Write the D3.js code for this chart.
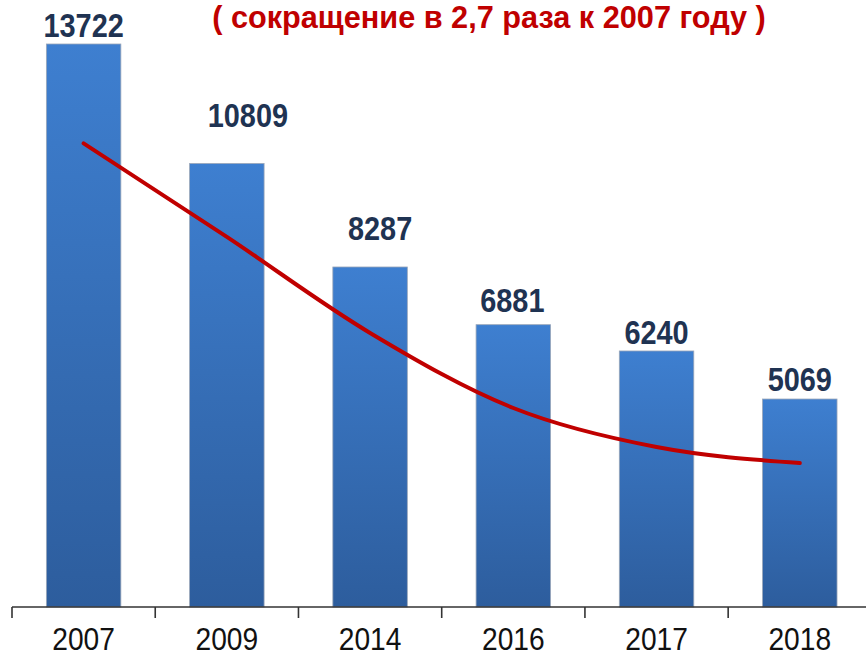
<!DOCTYPE html>
<html>
<head>
<meta charset="utf-8">
<script src="https://cdn.jsdelivr.net/npm/d3@7"></script>
<style>
  html, body { margin: 0; padding: 0; background: #fff; }
  svg { display: block; }
</style>
</head>
<body>
<svg id="chart" width="866" height="657"></svg>
<script>
const title = "( сокращение в 2,7 раза к 2007 году )";
const years = ["2007", "2009", "2014", "2016", "2017", "2018"];
const values = [13722, 10809, 8287, 6881, 6240, 5069];
const trendValues = [11300, 9020, 6680, 4850, 3900, 3510];
// label nudges (as in the original slide)
const labelGap = [7, 37, 27, 13, 7, 8];
const labelShift = [0, 21, 10, -1, 0, 0];

const W = 866, H = 657;
const baseY = 607;
const FONT = "'Liberation Sans', Arial, sans-serif";
const svg = d3.select("#chart");

const x = d3.scaleBand().domain(years).range([12, 871.4])
  .paddingInner(0.48).paddingOuter(0.24);
const y = d3.scaleLinear().domain([0, 13722]).range([baseY, 44]);

const defs = svg.append("defs");
const grad = defs.append("linearGradient").attr("id", "barGrad")
  .attr("x1", 0).attr("y1", 0).attr("x2", 0).attr("y2", 1);
grad.append("stop").attr("offset", "0%").attr("stop-color", "#3E7FD0");
grad.append("stop").attr("offset", "100%").attr("stop-color", "#2D5D9D");

svg.append("g").selectAll("rect").data(values).join("rect")
  .attr("x", (d, i) => x(years[i]))
  .attr("y", d => y(d))
  .attr("width", x.bandwidth())
  .attr("height", d => baseY - y(d))
  .attr("fill", "url(#barGrad)")
  .attr("stroke", "#9aa6b8")
  .attr("stroke-width", 0.8);

// axis
const gAxis = svg.append("g").attr("transform", `translate(0,${baseY})`);
gAxis.append("line").attr("x1", 12).attr("x2", W).attr("y1", 0).attr("y2", 0)
  .attr("stroke", "#333").attr("stroke-width", 1.6);
const stepTicks = years.map(d => x(d) - x.step() * x.paddingInner() / 2);
gAxis.selectAll("line.tick").data(stepTicks).join("line").attr("class", "tick")
  .attr("x1", d => d).attr("x2", d => d).attr("y1", 0).attr("y2", 11)
  .attr("stroke", "#333").attr("stroke-width", 1.6);
gAxis.selectAll("g.lbl").data(years).join("g").attr("class", "lbl")
  .attr("transform", d => `translate(${x(d) + x.bandwidth() / 2},43) scale(0.88,1)`)
  .append("text")
  .attr("text-anchor", "middle")
  .attr("font-family", FONT)
  .attr("font-size", 32)
  .attr("fill", "#111")
  .text(d => d);

// trend line
const line = d3.line()
  .x((d, i) => x(years[i]) + x.bandwidth() / 2)
  .y(d => y(d))
  .curve(d3.curveMonotoneX);
svg.append("path").datum(trendValues)
  .attr("d", line)
  .attr("fill", "none")
  .attr("stroke", "#C00000")
  .attr("stroke-width", 4)
  .attr("stroke-linecap", "round");

// value labels
svg.append("g").selectAll("g").data(values).join("g")
  .attr("transform", (d, i) =>
    `translate(${x(years[i]) + x.bandwidth() / 2 + labelShift[i]},${y(d) - labelGap[i]}) scale(0.85,1)`)
  .append("text")
  .attr("text-anchor", "middle")
  .attr("font-family", FONT)
  .attr("font-weight", "bold")
  .attr("font-size", 34)
  .attr("fill", "#1F3352")
  .text(d => d);

// title
svg.append("g").attr("transform", "translate(489,28) scale(0.99,1)")
  .append("text")
  .attr("text-anchor", "middle")
  .attr("font-family", FONT)
  .attr("font-weight", "bold")
  .attr("font-size", 31)
  .attr("fill", "#C00000")
  .text(title);
</script>
</body>
</html>
